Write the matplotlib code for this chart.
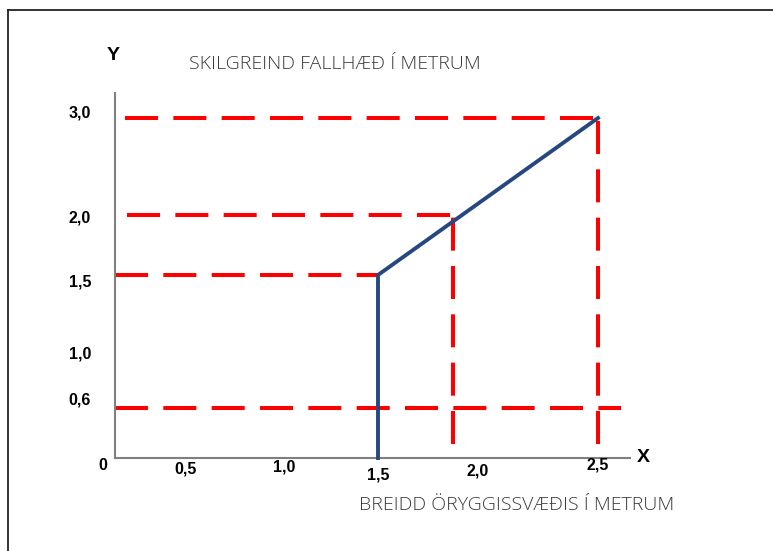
import numpy as np
import matplotlib.pyplot as plt
from matplotlib.lines import Line2D

# skýringarmynd, ekki í réttum hlutföllum
x_ticks = [0.5, 1.0, 1.5, 2.0, 2.5]
x_tick_labels = ['0,5', '1,0', '1,5', '2,0', '2,5']
y_ticks = [3.0, 2.0, 1.5, 1.0, 0.6]
y_tick_labels = ['3,0', '2,0', '1,5', '1,0', '0,6']

# blá línan: breidd (x) á móti fallhæð (y)
curve_x = [1.5, 1.5, 2.5]
curve_y = [0.0, 1.5, 3.0]

# rauðar hjálparlínur
h_y = [3.0, 2.0, 1.5, 0.6]
h_x0 = [0.07, 0.085, 0.0, 0.0]
h_x1 = [2.5, 1.875, 1.5, 2.61]
v_x = [1.875, 2.5]
v_y0 = [0.17, 0.17]
v_y1 = [2.0, 3.0]

# the drawing is not to scale -> piecewise axis
x_knots = [0, 0.5, 1.0, 1.5, 2.0, 2.5, 2.65]
x_pix = [0, 71, 169, 263, 363, 483, 515]
y_knots = [0, 0.6, 1.0, 1.5, 2.0, 3.0, 3.26]
y_pix = [0, 50, 104, 183, 243, 340, 365]

W, H = 773, 551
fig = plt.figure(figsize=(W / 100, H / 100), dpi=100)
ax = fig.add_axes([115 / W, 93 / H, 515 / W, 365 / H])

ax.set_xscale('function', functions=(lambda v: np.interp(v, x_knots, x_pix),
                                     lambda p: np.interp(p, x_pix, x_knots)))
ax.set_yscale('function', functions=(lambda v: np.interp(v, y_knots, y_pix),
                                     lambda p: np.interp(p, y_pix, y_knots)))
ax.set_xlim(0, 2.65)
ax.set_ylim(0, 3.26)

for s in ['top', 'right']:
    ax.spines[s].set_visible(False)
for s in ['left', 'bottom']:
    ax.spines[s].set_color('#808080')
    ax.spines[s].set_linewidth(1.5)
ax.set_xticks([])
ax.set_yticks([])
ax.minorticks_off()

red = '#ff0000'
for y, a, b in zip(h_y, h_x0, h_x1):
    ax.plot([a, b], [y, y], color=red, lw=2.9, dashes=(8.2, 3.8), clip_on=False)
for x, a, b in zip(v_x, v_y0, v_y1):
    ax.plot([x, x], [a, b], color=red, lw=2.9, dashes=(8.2, 3.8), clip_on=False)

ax.plot(curve_x, curve_y, color='#27487f', lw=2.8, clip_on=False,
        solid_joinstyle='miter', zorder=5)

tick_font = dict(family='Liberation Sans', fontsize=11.5, fontweight='bold')
x_dy = [11, 9, 17, 13, 7]
for v, lab, dy in zip(x_ticks, x_tick_labels, x_dy):
    ax.annotate(lab, xy=(v, 0), xycoords=('data', 'axes fraction'),
                xytext=(0, -dy), textcoords='offset pixels',
                ha='center', va='center', **tick_font)
y_dy = [-5, 3, 7, 0, -8]
for v, lab, dy in zip(y_ticks, y_tick_labels, y_dy):
    ax.annotate(lab, xy=(0, v), xycoords=('axes fraction', 'data'),
                xytext=(-35, -dy), textcoords='offset pixels',
                ha='center', va='center', **tick_font)

def ftext(x, y, s, **kw):
    fig.text(x / W, 1 - y / H, s, ha='center', va='center', **kw)

ftext(103, 465, '0', **tick_font)
ftext(113, 56, 'Y', family='Liberation Sans', fontsize=14, fontweight='bold')
ftext(643, 457, 'X', family='Liberation Sans', fontsize=14, fontweight='bold')

title_font = dict(family='Open Sans', fontsize=14, fontweight='light', color='#3a3a3a')
ftext(335, 64, 'SKILGREIND FALLHÆÐ Í METRUM', **title_font)
ftext(517, 505, 'BREIDD ÖRYGGISSVÆÐIS Í METRUM', **title_font)

# ramminn
fig.add_artist(Line2D([8 / W, 1], [1 - 10 / H] * 2, transform=fig.transFigure,
                      color='#222222', lw=1.3))
fig.add_artist(Line2D([8 / W] * 2, [0, 1 - 10 / H], transform=fig.transFigure,
                      color='#222222', lw=1.3))

fig.savefig('out.png', dpi=100)
